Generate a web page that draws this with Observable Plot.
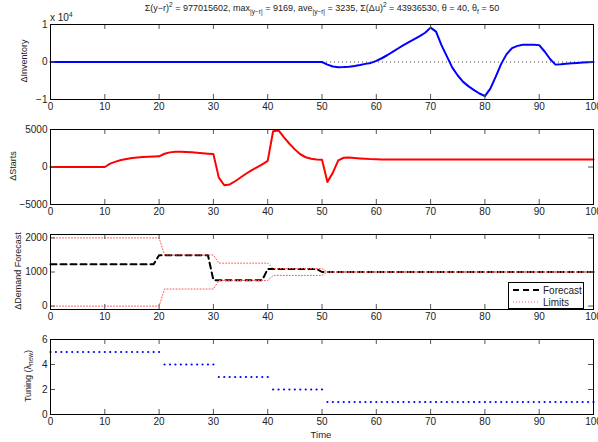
<!DOCTYPE html>
<html><head><meta charset="utf-8">
<script src="https://cdn.jsdelivr.net/npm/d3@7"></script>
<script src="https://cdn.jsdelivr.net/npm/@observablehq/plot@0.6"></script>
<style>
body{margin:0;background:#fff;}
#wrap{position:relative;width:598px;height:442px;overflow:hidden;font-family:"Liberation Sans",Arial,sans-serif;color:#222;}
#wrap svg.plot{position:absolute;left:0;}
.lbl{position:absolute;font-size:9px;white-space:nowrap;line-height:1;}
.ylab{position:absolute;font-size:9px;white-space:nowrap;line-height:1;transform:translate(-50%,-50%) rotate(-90deg);}
sub,sup{font-size:6.5px;line-height:0;}
#legend{position:absolute;left:508px;top:282px;width:74px;height:25px;border:1px solid #000;background:#fff;font-size:10px;}
#legend .row{position:absolute;left:4px;height:10px;display:flex;align-items:center;}
#legend .row span{margin-left:3px;}
</style></head><body><div id="wrap"></div>
<script>
// ---- data ----
const xTicks = [0,10,20,30,40,50,60,70,80,90,100];

const invTime = [0,50,51,52,53,54,55,56,57,58,59,60,61,62,63,64,65,66,67,68,69,70,71,72,73,74,75,76,77,78,79,80,81,82,83,84,85,86,87,88,89,90,91,92,93,94,95,96,97,98,99,100];
const invValue = [0,0,-700,-1200,-1400,-1350,-1250,-1050,-800,-500,-250,300,1000,1800,2700,3600,4500,5300,6100,6900,7800,9169,8100,4500,1500,-1500,-3600,-5300,-6500,-7500,-8400,-9100,-7100,-3900,-500,2100,3700,4300,4600,4600,4600,4500,2800,800,-700,-600,-450,-350,-250,-150,-80,0];
const invTicks = [-10000,0,10000];

const startsTime = [0,10,11,12,13,14,15,16,17,18,19,20,21,22,23,24,25,26,27,28,29,30,31,32,33,34,35,36,37,38,39,40,41,42,43,44,45,46,47,48,49,50,51,52,53,54,55,56,57,58,59,60,61,62,100];
const startsValue = [0,0,450,720,930,1070,1190,1280,1330,1370,1390,1420,1770,1950,2030,2040,2010,1960,1900,1830,1770,1720,-1420,-2430,-2330,-1900,-1400,-900,-450,-50,350,820,4780,4870,3950,3100,2350,1700,1300,1100,1000,980,-2000,-750,880,1230,1270,1200,1140,1090,1050,1030,1010,1000,1000];
const startsTicks = [-5000,0,5000];

const forecastTime = [0,19,20,29,30,39,40,49,50,100];
const forecastValue = [1230,1230,1490,1490,760,760,1090,1090,1000,1000];
const limitTime = [0,20,21,30,31,40,41,50,51,100];
const limitUpper = [2000,2000,1500,1500,1260,1260,1100,1100,1000,1000];
const limitLower = [0,0,500,500,750,750,900,900,1000,1000];
const demandTicks = [0,1000,2000];

const tuneTime = [0,1,2,3,4,5,6,7,8,9,10,11,12,13,14,15,16,17,18,19,20,21,22,23,24,25,26,27,28,29,30,31,32,33,34,35,36,37,38,39,40,41,42,43,44,45,46,47,48,49,50,51,52,53,54,55,56,57,58,59,60,61,62,63,64,65,66,67,68,69,70,71,72,73,74,75,76,77,78,79,80,81,82,83,84,85,86,87,88,89,90,91,92,93,94,95,96,97,98,99,100];
const tuneValue = [5,5,5,5,5,5,5,5,5,5,5,5,5,5,5,5,5,5,5,5,5,4,4,4,4,4,4,4,4,4,4,3,3,3,3,3,3,3,3,3,3,2,2,2,2,2,2,2,2,2,2,1,1,1,1,1,1,1,1,1,1,1,1,1,1,1,1,1,1,1,1,1,1,1,1,1,1,1,1,1,1,1,1,1,1,1,1,1,1,1,1,1,1,1,1,1,1,1,1,1,1];
const tuneTicks = [0,2,4,6];

// ---- drawing ----
const wrap = document.getElementById("wrap");
const W = 598, ML = 50, MR = 5, FH = 75, PW = W - ML - MR;
const rows = (xs, ys) => xs.map((x, i) => ({x, y: ys[i]}));

function panel(top, yDomain, yTicks, yFmt, marks) {
  const mt = 6, mb = 22;
  const svg = Plot.plot({
    width: W, height: FH + mt + mb,
    marginLeft: ML, marginRight: MR, marginTop: mt, marginBottom: mb,
    style: {fontFamily: '"Liberation Sans", Arial, sans-serif', fontSize: "10px", color: "#222", background: "transparent", overflow: "visible"},
    x: {domain: [0, 100]},
    y: {domain: yDomain},
    marks: [
      ...marks,
      Plot.ruleX(xTicks, {x: d => d, insetTop: FH - 5, stroke: "#555"}),
      Plot.ruleX(xTicks, {x: d => d, insetBottom: FH - 5, stroke: "#555"}),
      Plot.ruleY(yTicks, {y: d => d, insetRight: PW - 5, stroke: "#555"}),
      Plot.ruleY(yTicks, {y: d => d, insetLeft: PW - 5, stroke: "#555"}),
      Plot.frame({stroke: "#000"}),
      Plot.axisX({ticks: xTicks, tickSize: 0, tickPadding: 3, label: null, tickFormat: d => String(d)}),
      Plot.axisY({ticks: yTicks, tickSize: 0, tickPadding: 3, label: null, tickFormat: yFmt})
    ]
  });
  svg.classList.add("plot");
  svg.style.top = (top - mt) + "px";
  wrap.appendChild(svg);
}
const fmt = d => (d < 0 ? "\u2212" + Math.abs(d) : String(d));

panel(24, [-10000, 10000], invTicks, d => fmt(d / 10000), [
  Plot.ruleY([0], {stroke: "#444", strokeDasharray: "1,3"}),
  Plot.line(rows(invTime, invValue), {x: "x", y: "y", stroke: "#0000ff", strokeWidth: 2})
]);
panel(129, [-5000, 5000], startsTicks, fmt, [
  Plot.line(rows(startsTime, startsValue), {x: "x", y: "y", stroke: "#ff0000", strokeWidth: 2})
]);
panel(234, [-100, 2100], demandTicks, fmt, [
  Plot.line(rows(forecastTime, forecastValue), {x: "x", y: "y", stroke: "#000", strokeWidth: 2, strokeDasharray: "6,4"}),
  Plot.line(rows(limitTime, limitUpper), {x: "x", y: "y", stroke: "#ff5555", strokeWidth: 1, strokeDasharray: "1,2"}),
  Plot.line(rows(limitTime, limitLower), {x: "x", y: "y", stroke: "#ff5555", strokeWidth: 1, strokeDasharray: "1,2"})
]);
panel(339, [0, 6], tuneTicks, fmt, [
  Plot.dot(rows(tuneTime, tuneValue), {x: "x", y: "y", r: 1.1, fill: "#0000ff", stroke: null})
]);

// ---- text ----
function add(html, cls, css) {
  const d = document.createElement("div");
  d.className = cls; d.innerHTML = html; Object.assign(d.style, css); wrap.appendChild(d); return d;
}
add("\u03a3(y\u2212r)<sup>2</sup> = 977015602, max<sub>|y\u2212r|</sub> = 9169, ave<sub>|y\u2212r|</sub> = 3235, \u03a3(\u0394u)<sup>2</sup> = 43936530, \u03b8 = 40, \u03b8<sub>f</sub> = 50", "lbl", {top: "4px", left: "322px", transform: "translateX(-50%)"});
add("x 10<sup>4</sup>", "lbl", {top: "13px", left: "50px", fontSize: "10px"});
add("\u0394Inventory", "ylab", {left: "24px", top: "61px"});
add("\u0394Starts", "ylab", {left: "13px", top: "166px"});
add("\u0394Demand Forecast", "ylab", {left: "18px", top: "271px"});
add("Tuning (\u03bb<sub>new</sub>)", "ylab", {left: "28px", top: "376px"});
add("Time", "lbl", {top: "430px", left: "321px", transform: "translateX(-50%)", fontSize: "9.5px"});

const lg = document.createElement("div");
lg.id = "legend";
lg.innerHTML = '<div class="row" style="top:2px"><svg width="27" height="4"><line x1="0" y1="2" x2="27" y2="2" stroke="#000" stroke-width="2" stroke-dasharray="6,4"/></svg><span>Forecast</span></div>' +
  '<div class="row" style="top:14px"><svg width="27" height="4"><line x1="0" y1="2" x2="27" y2="2" stroke="#ff5555" stroke-width="1" stroke-dasharray="1,2"/></svg><span>Limits</span></div>';
wrap.appendChild(lg);
</script>
</body></html>
